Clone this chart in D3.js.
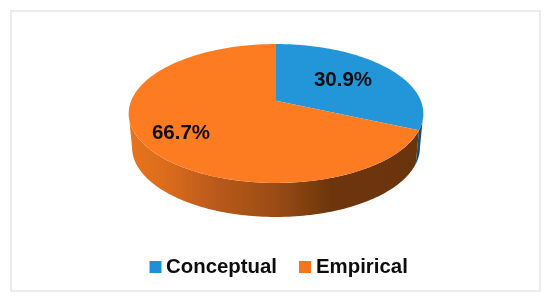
<!DOCTYPE html>
<html><head><meta charset="utf-8">
<script src="https://cdn.jsdelivr.net/npm/d3@7"></script>
<style>html,body{margin:0;padding:0;background:#fff}svg{display:block}</style>
</head><body><svg id="c" width="550" height="304"></svg>
<script>
const categories = ["Conceptual", "Empirical"];
const shareValues = [30.9, 66.7];
const shareLabels = ["30.9%", "66.7%"];
const topColors = ["#2196d8", "#fd7b23"];

const root = d3.select("#c");
const P = 0.184;
const topFace = {x0: 276, y0: 100.7, A: 144.8, B: 67.1};
const baseFace = {x0: 276, y0: 134.5, A: 141.5, B: 67.3};
const project = (g, a) => {
  const u = Math.sin(a), v = -Math.cos(a), d = 1 - P * v;
  return [g.x0 + g.A * u / d, g.y0 + g.B * v / d];
};
const arcs = d3.pie().sort(null).value(d => d)(shareValues);
const line = d3.line();
const rim = (g, a0, a1) => d3.range(0, 121).map(i => project(g, a0 + (a1 - a0) * i / 120));
// the rim's widest points, where the visible wall begins and ends
const wallStart = Math.acos(-P), wallEnd = 2 * Math.PI - wallStart;

const defs = root.append("defs");
defs.append("filter").attr("id", "soft").attr("x", 0).attr("y", 0).attr("width", 1).attr("height", 1)
  .append("feGaussianBlur").attr("stdDeviation", 0.45);
const sideGrad = (id, stops) => {
  const gr = defs.append("linearGradient").attr("id", id).attr("gradientUnits", "userSpaceOnUse")
    .attr("x1", 128).attr("x2", 424).attr("y1", 0).attr("y2", 0);
  stops.forEach(s => gr.append("stop").attr("offset", s[0]).attr("stop-color", s[1]));
};
sideGrad("sideO", [[0, "#e8731f"], [0.12, "#dc6d1e"], [0.3, "#b9591a"], [0.5, "#9a4c15"], [0.68, "#6e360c"], [1, "#6a3308"]]);
sideGrad("sideB", [[0, "#0f4f7c"], [1, "#0f4f7c"]]);

const svg = root.append("g").attr("filter", "url(#soft)");

// background and border
svg.append("rect").attr("width", 550).attr("height", 304).attr("fill", "#fff");
svg.append("rect").attr("x", 11).attr("y", 11).attr("width", 529).attr("height", 280)
  .attr("fill", "#fff").attr("stroke", "#e6e6e6").attr("stroke-width", 1.5);

// side walls (front half only)
const sideIds = ["url(#sideB)", "url(#sideO)"];
arcs.forEach((d, i) => {
  const a0 = Math.max(d.startAngle, wallStart), a1 = Math.min(d.endAngle, wallEnd);
  const pts = rim(topFace, a0, a1).concat(rim(baseFace, a0, a1).reverse());
  svg.append("path").attr("d", line(pts) + "Z").attr("fill", sideIds[i]);
});
// top face
arcs.forEach((d, i) => {
  const pts = [[topFace.x0, topFace.y0]].concat(rim(topFace, d.startAngle, d.endAngle));
  svg.append("path").attr("d", line(pts) + "Z").attr("fill", topColors[i]);
});
// value labels
const labelPos = [[343, 86], [181, 139]];
shareLabels.forEach((t, i) => {
  svg.append("text").attr("x", labelPos[i][0]).attr("y", labelPos[i][1]).attr("text-anchor", "middle")
    .attr("font-family", "Liberation Sans, Arial, sans-serif").attr("font-weight", 700)
    .attr("font-size", 20.5).attr("fill", "#0d0d0d").text(t);
});
// legend
const legendX = [[149.5, 166], [299, 316]];
const legendColors = ["#1f90d8", "#f4741f"];
categories.forEach((t, i) => {
  svg.append("rect").attr("x", legendX[i][0]).attr("y", 261).attr("width", 12).attr("height", 12)
    .attr("fill", legendColors[i]);
  svg.append("text").attr("x", legendX[i][1]).attr("y", 273)
    .attr("font-family", "Liberation Sans, Arial, sans-serif").attr("font-weight", 700)
    .attr("font-size", 20.4).attr("fill", "#0d0d0d").text(t);
});
</script></body></html>
